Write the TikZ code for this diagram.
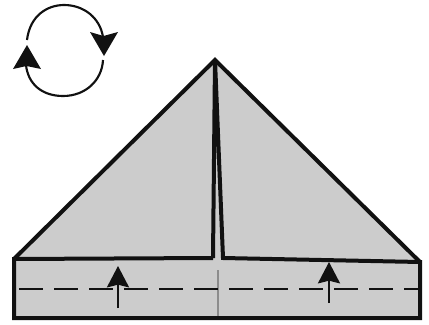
\documentclass[tikz,border=0pt]{standalone}
\usepackage{tikz}
\usetikzlibrary{arrows.meta}
\definecolor{ink}{HTML}{111111}
\definecolor{paper}{HTML}{CCCCCC}
\definecolor{creasec}{HTML}{8C8C8C}
\tikzset{
  outline/.style={ink,line width=3pt,line join=miter},
  foldline/.style={ink,line width=1.8pt,dash pattern=on 18pt off 8.25pt},
  crease/.style={creasec,line width=1pt},
  liftarrow/.style={ink,line width=1.8pt,-{Stealth[length=16pt,width=16.5pt,inset=2pt]}},
  turnarc/.style={ink,line width=1.6pt},
  turntip/.style={ink,fill=ink},
}
\begin{document}
\begin{tikzpicture}[x=0.75pt,y=-0.75pt]
  \useasboundingbox (0,0) rectangle (429,325);
  % ---------- paper ----------
  \fill[paper] (14,259) -- (215,60) -- (420,262) -- (420,318) -- (14,318) -- cycle;
  \draw[crease] (218,270) -- (218,318);
  \draw[foldline] (19,289) -- (420,289);
  % ---------- outline ----------
  \draw[outline] (213,258) -- (14,259) -- (14,318) -- (420,318) -- (420,262) -- (223,258) -- (215,60) -- (213,258);
  \draw[outline] (14,259) -- (215,60) -- (420,262);
  % ---------- lift arrows ----------
  \draw[liftarrow] (118,308) -- (118,266);
  \draw[liftarrow] (329,303) -- (329,262);
  % ---------- turn over ----------
  \draw[turnarc] (27,40) .. controls (30,15) and (48,5) .. (64,5) .. controls (84,5) and (100,18) .. (103,37);
  \draw[turnarc] (103,60) .. controls (102,80) and (86,96) .. (63,96) .. controls (42,96) and (28,84) .. (26,65);
  \fill[turntip] (104,56) -- (90,32) -- (103.5,36) -- (118,32) -- cycle;
  \fill[turntip] (27,45) -- (13,69) -- (26.5,66) -- (41,69) -- cycle;
\end{tikzpicture}
\end{document}
